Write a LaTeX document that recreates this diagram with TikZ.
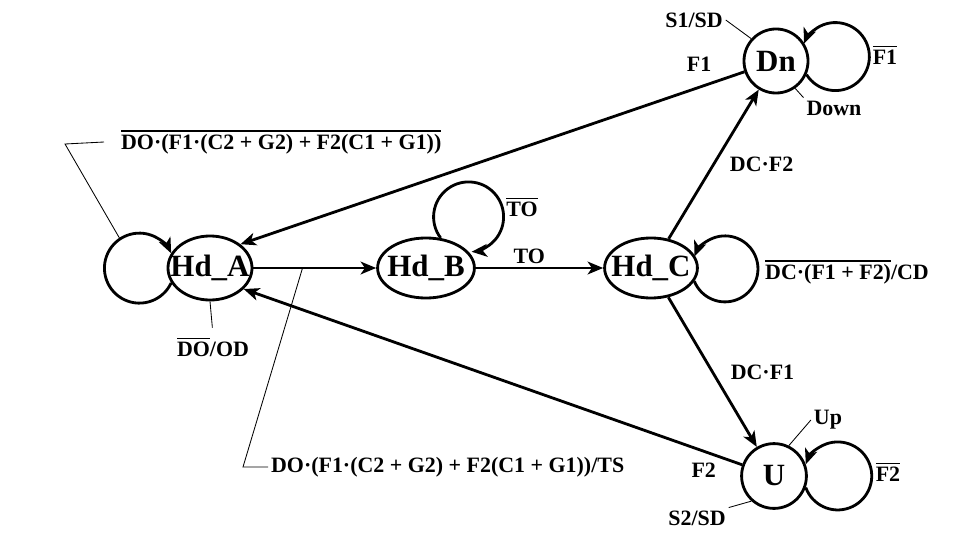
\documentclass[tikz,border=0pt]{standalone}
\usepackage{fontspec}
\setmainfont{Liberation Serif}
\usetikzlibrary{arrows.meta,shapes.geometric}
\newcommand\ovl[1]{\leavevmode\vbox{\hrule height 1.2pt\kern 1.6pt\hbox{#1}}}

\begin{document}
\begin{tikzpicture}[x=0.025cm, y=0.025cm, >={Stealth[length=11pt,width=9pt,inset=3pt]},
    font=\fontsize{15.6}{18}\selectfont\bfseries, inner sep=2pt,
    st/.style={draw, line width=2pt, inner sep=0pt},
    every label/.style={font=\fontsize{22}{25}\selectfont\bfseries, inner sep=0pt},
    tr/.style={->, line width=2pt},
    lead/.style={line width=0.6pt}]
    \useasboundingbox (0,0) rectangle (970,548);

    % states
    \node[st, ellipse, minimum width=2.1cm, minimum height=1.6cm, label=center:Hd\_A] (a) at (210,280) {};
    \node[st, ellipse, minimum width=2.42cm, minimum height=1.5cm, label=center:Hd\_B] (b) at (426,280) {};
    \node[st, ellipse, minimum width=2.32cm, minimum height=1.5cm, label=center:Hd\_C] (c) at (651,280) {};
    \node[st, circle, minimum size=1.6cm, label=center:Dn] (dn) at (776,487) {};
    \node[st, circle, minimum size=1.62cm, label=center:U] (u) at (774,72) {};

    % transitions
    \draw[tr] (a) -- coordinate[pos=.4] (abp) (b);
    \draw[tr] (b) -- node[above, pos=.42] (to) {TO} (c);
    \draw[tr] (c) -- node[right=0.3cm] (dcf2) {DC·F2} (dn);
    \draw[tr] (c) -- node[right=0.35cm] (dcf1) {DC·F1} (u);
    \draw[tr] (dn) -- node[above=0.3cm, pos=.09] (f1) {F1} (a.38);
    \draw[tr] (u) -- node[below=0.2cm, pos=.077] (f2) {F2} (a.-32);

    % self loops
    \draw[tr] (a.201) arc[start angle=-25, end angle=-335, radius=35];
    \draw[tr] (b.64) arc[start angle=217, end angle=-85, radius=35];
    \draw[tr] (c.-17) arc[start angle=-158, end angle=158, radius=33];
    \draw[tr] (dn.-24) arc[start angle=-148, end angle=158, radius=34];
    \draw[tr] (u.-20) arc[start angle=-160, end angle=160, radius=34];

    % loop labels
    \node (nto) at (522,341) {\ovl{TO}};
    \node (ndc) at (847,276) {\ovl{DC·(F1 + F2)}/CD};
    \node (nf1) at (885,493) {\ovl{F1}};
    \node (nf2) at (888,76) {\ovl{F2}};

    % outputs with leader lines
    \coordinate (al) at (120,309);
    \coordinate (ak) at (65,404);
    \node[anchor=west, inner xsep=12pt] (alab) at (104,406) {\ovl{DO·(F1·(C2 + G2) + F2(C1 + G1))}};
    \draw[lead] (al) -- (ak) -- (alab.west);

    \coordinate (abk) at (243,81);
    \node[anchor=west] (ablab) at (268,81) {DO·(F1·(C2 + G2) + F2(C1 + G1))/TS};
    \draw[lead] (abp) -- (abk) -- (ablab.west);

    \node (od) at (213,201) {\ovl{DO}/OD};
    \draw[lead, shorten >=5pt] (a.south) -- (od.north);

    \node (s1) at (694,528) {S1/SD};
    \draw[lead] (dn.138) -- (s1.east);
    \node (down) at (834,440) {Down};
    \draw[lead] (dn.-55) -- (down.north west);

    \node (up) at (828,128) {Up};
    \draw[lead] (u.64) -- (up.west);
    \node (s2) at (697,30) {S2/SD};
    \draw[lead] (u.228) -- (s2.north east);
\end{tikzpicture}
\end{document}
